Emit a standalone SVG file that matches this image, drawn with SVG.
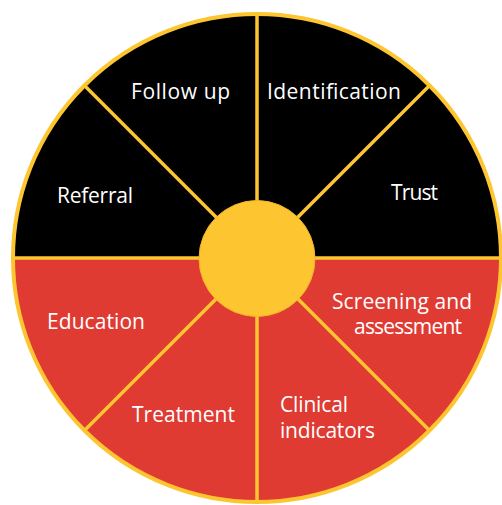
<svg xmlns="http://www.w3.org/2000/svg" width="502" height="505" viewBox="0 0 502 505">
  <style>
    .black { fill: #000000; }
    .red { fill: #E03B33; }
    .label { fill: #FFFFFF; font-family: "Open Sans", "Noto Sans", sans-serif; font-size: 21px; }
    .divider { stroke: #FDC52F; stroke-width: 3.5; stroke-linecap: butt; }
  </style>
  <rect width="502" height="505" fill="#FFFFFF"/>

  <!-- upper (black) sectors -->
  <g id="follow-up">
    <path class="black" d="M257 258 L257 14 A244 244 0 0 0 84.47 85.47 Z"/>
    <text class="label" x="131" y="99" textLength="99" lengthAdjust="spacing">Follow up</text>
  </g>
  <g id="identification">
    <path class="black" d="M257 258 L429.53 85.47 A244 244 0 0 0 257 14 Z"/>
    <text class="label" x="267" y="99" textLength="134" lengthAdjust="spacing">Identification</text>
  </g>
  <g id="trust">
    <path class="black" d="M257 258 L501 258 A244 244 0 0 0 429.53 85.47 Z"/>
    <text class="label" x="391" y="200" textLength="47" lengthAdjust="spacing">Trust</text>
  </g>
  <g id="referral">
    <path class="black" d="M257 258 L84.47 85.47 A244 244 0 0 0 13 258 Z"/>
    <text class="label" x="57" y="203" textLength="76" lengthAdjust="spacing">Referral</text>
  </g>

  <!-- lower (red) sectors -->
  <g id="education">
    <path class="red" d="M257 258 L13 258 A244 244 0 0 0 84.47 430.53 Z"/>
    <text class="label" x="47" y="329" textLength="98" lengthAdjust="spacing">Education</text>
  </g>
  <g id="treatment">
    <path class="red" d="M257 258 L84.47 430.53 A244 244 0 0 0 257 502 Z"/>
    <text class="label" x="132" y="421.5" textLength="103" lengthAdjust="spacing">Treatment</text>
  </g>
  <g id="clinical-indicators">
    <path class="red" d="M257 258 L257 502 A244 244 0 0 0 429.53 430.53 Z"/>
    <text class="label" x="280" y="411.5" textLength="68" lengthAdjust="spacing">Clinical</text>
    <text class="label" x="280" y="438" textLength="95" lengthAdjust="spacing">indicators</text>
  </g>
  <g id="screening-and-assessment">
    <path class="red" d="M257 258 L429.53 430.53 A244 244 0 0 0 501 258 Z"/>
    <text class="label" x="332" y="309" textLength="140" lengthAdjust="spacing">Screening and</text>
    <text class="label" x="354" y="334" textLength="108" lengthAdjust="spacing">assessment</text>
  </g>

  <!-- spokes and rim -->
  <g id="connectors">
    <line class="divider" x1="257" y1="258" x2="257" y2="14"/>
    <line class="divider" x1="257" y1="258" x2="257" y2="502"/>
    <line class="divider" x1="257" y1="258" x2="13" y2="258"/>
    <line class="divider" x1="257" y1="258" x2="501" y2="258"/>
    <line class="divider" x1="257" y1="258" x2="84.47" y2="85.47"/>
    <line class="divider" x1="257" y1="258" x2="429.53" y2="85.47"/>
    <line class="divider" x1="257" y1="258" x2="84.47" y2="430.53"/>
    <line class="divider" x1="257" y1="258" x2="429.53" y2="430.53"/>
    <circle cx="257" cy="258" r="244" fill="none" stroke="#FDC52F" stroke-width="4"/>
  </g>

  <!-- central sun -->
  <g id="sun">
    <circle cx="257" cy="258.5" r="58" fill="#FDC52F" stroke="#F3B42A" stroke-width="1"/>
  </g>
</svg>
